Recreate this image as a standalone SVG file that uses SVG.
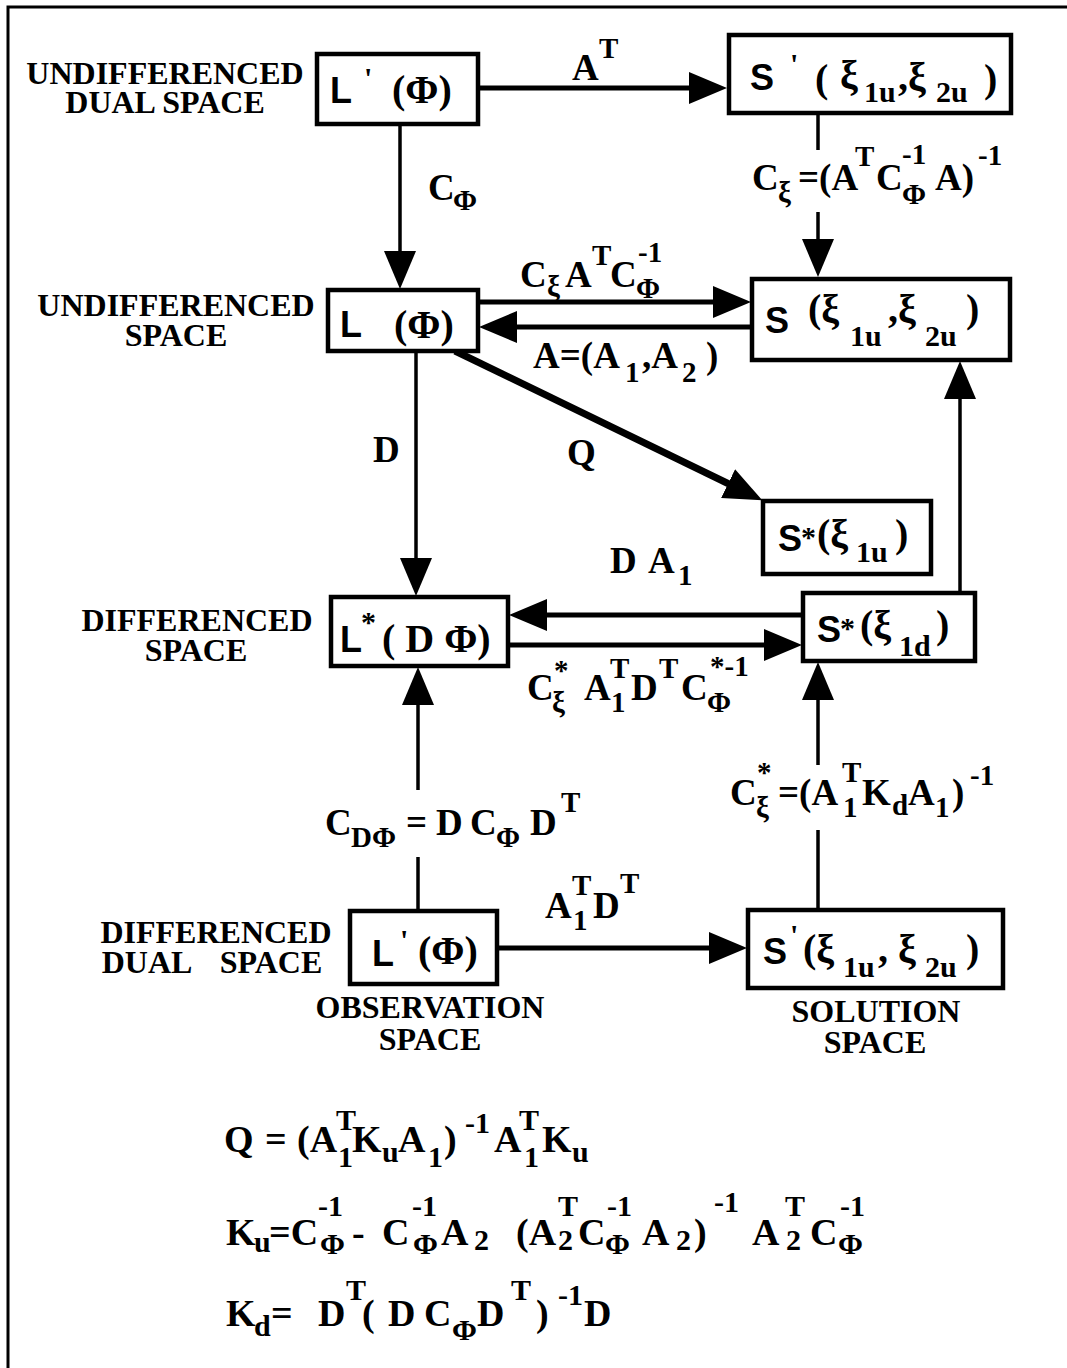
<svg xmlns="http://www.w3.org/2000/svg" width="1067" height="1368" viewBox="0 0 1067 1368">
<style>
text{font-family:"Liberation Serif","Times New Roman",serif;font-weight:bold;fill:#000}
.lab{font-size:32px;text-anchor:middle}
.m{font-size:37px}
.s{font-size:29px}
.f{font-size:38px}
.fs{font-size:30px}
.n{font-size:40px}
.ns{font-size:30px}
.sn{font-family:"Liberation Sans",Arial,sans-serif;font-size:36px}
.box{fill:#fff;stroke:#000;stroke-width:4.5}
.ln{stroke:#000;stroke-width:5;fill:none}
.thin{stroke-width:3.5}
.q{stroke-width:7}
</style>
<defs>
<marker id="ah" markerUnits="userSpaceOnUse" markerWidth="40" markerHeight="32" refX="1" refY="16" orient="auto" viewBox="0 0 40 32">
<path d="M0,0 L38,16 L0,32 Z" fill="#000"/>
</marker>
</defs>
<rect width="1067" height="1368" fill="#fff"/>
<path d="M8,1368 V7 H1067" fill="none" stroke="#000" stroke-width="3"/>

<g id="labels">
<text class="lab"><tspan x="165" y="84">UNDIFFERENCED</tspan><tspan x="165" y="113">DUAL SPACE</tspan></text>
<text class="lab"><tspan x="176" y="316">UNDIFFERENCED</tspan><tspan x="176" y="346">SPACE</tspan></text>
<text class="lab"><tspan x="197" y="631">DIFFERENCED</tspan><tspan x="196" y="661">SPACE</tspan></text>
<text class="lab"><tspan x="216" y="943">DIFFERENCED</tspan><tspan x="147" y="973">DUAL</tspan><tspan x="271" y="973">SPACE</tspan></text>
<text class="lab"><tspan x="430" y="1018">OBSERVATION</tspan><tspan x="430" y="1050">SPACE</tspan></text>
<text class="lab"><tspan x="876" y="1022">SOLUTION</tspan><tspan x="875" y="1053">SPACE</tspan></text>
</g>

<g id="connectors">
<path class="ln" d="M478,88 H690" marker-end="url(#ah)"/>
<path class="ln thin" d="M400,124 V252" marker-end="url(#ah)"/>
<path class="ln thin" d="M818,113 V150"/>
<path class="ln thin" d="M818,212 V240" marker-end="url(#ah)"/>
<path class="ln" d="M478,302 H714" marker-end="url(#ah)"/>
<path class="ln" d="M752,327 H516" marker-end="url(#ah)"/>
<path class="ln thin" d="M416,351 V559" marker-end="url(#ah)"/>
<path class="ln q" d="M455,351 L729,484" marker-end="url(#ah)"/>
<path class="ln thin" d="M960,593 V398" marker-end="url(#ah)"/>
<path class="ln" d="M803,615 H546" marker-end="url(#ah)"/>
<path class="ln" d="M508,645 H765" marker-end="url(#ah)"/>
<path class="ln thin" d="M418,911 V857"/>
<path class="ln thin" d="M418,790 V704" marker-end="url(#ah)"/>
<path class="ln thin" d="M818,910 V830"/>
<path class="ln thin" d="M818,765 V699" marker-end="url(#ah)"/>
<path class="ln" d="M497,948 H710" marker-end="url(#ah)"/>
</g>

<g id="edge-labels">
<text class="m"><tspan x="572" y="80">A</tspan><tspan class="s" x="599" y="58">T</tspan></text>
<text class="m"><tspan x="428" y="200">C</tspan><tspan class="s" x="453" y="210">Φ</tspan></text>
<text class="m"><tspan x="752" y="190">C</tspan><tspan class="s" x="778" y="202">ξ</tspan><tspan x="798" y="190">=(A</tspan><tspan class="s" x="855" y="166">T</tspan><tspan x="876" y="190">C</tspan><tspan class="s" x="902" y="164">-1</tspan><tspan class="s" x="902" y="204">Φ</tspan><tspan x="935" y="190">A)</tspan><tspan class="s" x="978" y="165">-1</tspan></text>
<text class="m"><tspan x="520" y="287">C</tspan><tspan class="s" x="547" y="296">ξ</tspan><tspan x="565" y="287">A</tspan><tspan class="s" x="592" y="265">T</tspan><tspan x="610" y="287">C</tspan><tspan class="s" x="638" y="262">-1</tspan><tspan class="s" x="636" y="298">Φ</tspan></text>
<text class="m"><tspan x="533" y="368">A=(A</tspan><tspan class="s" x="625" y="382">1</tspan><tspan x="642" y="368">,A</tspan><tspan class="s" x="682" y="382">2</tspan><tspan x="706" y="368">)</tspan></text>
<text class="m" x="373" y="462">D</text>
<text class="m" x="567" y="465">Q</text>
<text class="m"><tspan x="610" y="573">D</tspan><tspan x="648" y="573">A</tspan><tspan class="s" x="678" y="585">1</tspan></text>
<text class="m"><tspan x="527" y="700">C</tspan><tspan class="s" x="554" y="680">*</tspan><tspan class="s" x="552" y="712">ξ</tspan><tspan x="584" y="700">A</tspan><tspan class="s" x="610" y="678">T</tspan><tspan class="s" x="611" y="712">1</tspan><tspan x="631" y="700">D</tspan><tspan class="s" x="659" y="678">T</tspan><tspan x="681" y="700">C</tspan><tspan class="s" x="710" y="676">*-1</tspan><tspan class="s" x="707" y="712">Φ</tspan></text>
<text class="m"><tspan x="325" y="835">C</tspan><tspan class="s" x="351" y="847">DΦ</tspan><tspan x="406" y="835">=</tspan><tspan x="436" y="835">D</tspan><tspan x="470" y="835">C</tspan><tspan class="s" x="496" y="847">Φ</tspan><tspan x="530" y="835">D</tspan><tspan class="s" x="561" y="812">T</tspan></text>
<text class="m"><tspan x="730" y="805">C</tspan><tspan class="s" x="757" y="782">*</tspan><tspan class="s" x="756" y="817">ξ</tspan><tspan x="778" y="805">=(A</tspan><tspan class="s" x="842" y="782">T</tspan><tspan class="s" x="843" y="817">1</tspan><tspan x="862" y="805">K</tspan><tspan class="s" x="892" y="815">d</tspan><tspan x="908" y="805">A</tspan><tspan class="s" x="935" y="817">1</tspan><tspan x="952" y="805">)</tspan><tspan class="s" x="970" y="785">-1</tspan></text>
<text class="m"><tspan x="545" y="918">A</tspan><tspan class="s" x="572" y="895">T</tspan><tspan class="s" x="573" y="930">1</tspan><tspan x="593" y="918">D</tspan><tspan class="s" x="620" y="893">T</tspan></text>
</g>

<g id="n-Lp1">
<rect class="box" x="317" y="54" width="161" height="70"/>
<text><tspan class="sn" x="330" y="103">L</tspan><tspan class="ns" x="364" y="88">'</tspan><tspan class="n" x="392" y="103">(Φ)</tspan></text>
</g>
<g id="n-Sp1">
<rect class="box" x="729" y="35" width="282" height="78"/>
<text><tspan class="sn" x="750" y="90">S</tspan><tspan class="ns" x="790" y="74">'</tspan><tspan class="n" x="815" y="92">(</tspan><tspan class="n" x="840" y="88">ξ</tspan><tspan class="ns" x="864" y="102">1u</tspan><tspan class="n" x="898" y="90">,ξ</tspan><tspan class="ns" x="936" y="102">2u</tspan><tspan class="n" x="984" y="92">)</tspan></text>
</g>
<g id="n-L">
<rect class="box" x="328" y="290" width="150" height="61"/>
<text><tspan class="sn" x="340" y="337">L</tspan><tspan class="n" x="394" y="338">(Φ)</tspan></text>
</g>
<g id="n-S">
<rect class="box" x="752" y="279" width="258" height="81"/>
<text><tspan class="sn" x="765" y="333">S</tspan><tspan class="n" x="808" y="322">(ξ</tspan><tspan class="ns" x="850" y="346">1u</tspan><tspan class="n" x="888" y="322">,ξ</tspan><tspan class="ns" x="925" y="346">2u</tspan><tspan class="n" x="966" y="322">)</tspan></text>
</g>
<g id="n-Ss1u">
<rect class="box" x="763" y="501" width="168" height="73"/>
<text><tspan class="sn" x="778" y="551">S</tspan><tspan class="ns" x="801" y="547">*</tspan><tspan class="n" x="817" y="547">(ξ</tspan><tspan class="ns" x="856" y="562">1u</tspan><tspan class="n" x="895" y="547">)</tspan></text>
</g>
<g id="n-Lstar">
<rect class="box" x="331" y="597" width="177" height="69"/>
<text><tspan class="sn" x="340" y="652">L</tspan><tspan class="ns" x="361" y="632">*</tspan><tspan class="n" x="382" y="652">( D Φ)</tspan></text>
</g>
<g id="n-Ss1d">
<rect class="box" x="803" y="593" width="172" height="68"/>
<text><tspan class="sn" x="817" y="642">S</tspan><tspan class="ns" x="840" y="638">*</tspan><tspan class="n" x="860" y="638">(ξ</tspan><tspan class="ns" x="899" y="656">1d</tspan><tspan class="n" x="936" y="638">)</tspan></text>
</g>
<g id="n-Lp2">
<rect class="box" x="350" y="911" width="147" height="73"/>
<text><tspan class="sn" x="372" y="966">L</tspan><tspan class="ns" x="400" y="950">'</tspan><tspan class="n" x="418" y="964">(Φ)</tspan></text>
</g>
<g id="n-Sp2">
<rect class="box" x="748" y="910" width="255" height="78"/>
<text><tspan class="sn" x="763" y="964">S</tspan><tspan class="ns" x="790" y="945">'</tspan><tspan class="n" x="803" y="962">(ξ</tspan><tspan class="ns" x="843" y="977">1u</tspan><tspan class="n" x="878" y="962">, ξ</tspan><tspan class="ns" x="925" y="977">2u</tspan><tspan class="n" x="966" y="962">)</tspan></text>
</g>

<g id="formulas">
<text class="f"><tspan x="224" y="1152">Q</tspan><tspan x="265" y="1152">=</tspan><tspan x="297" y="1152">(A</tspan><tspan class="fs" x="336" y="1130">T</tspan><tspan class="fs" x="338" y="1167">1</tspan><tspan x="352" y="1152">K</tspan><tspan class="fs" x="382" y="1162">u</tspan><tspan x="398" y="1152">A</tspan><tspan class="fs" x="428" y="1167">1</tspan><tspan x="444" y="1152">)</tspan><tspan class="fs" x="465" y="1133">-1</tspan><tspan x="494" y="1152">A</tspan><tspan class="fs" x="519" y="1130">T</tspan><tspan class="fs" x="524" y="1167">1</tspan><tspan x="542" y="1152">K</tspan><tspan class="fs" x="572" y="1162">u</tspan></text>
<text class="f"><tspan x="226" y="1245">K</tspan><tspan class="fs" x="254" y="1252">u</tspan><tspan x="269" y="1245">=C</tspan><tspan class="fs" x="318" y="1216">-1</tspan><tspan class="fs" x="320" y="1254">Φ</tspan><tspan x="352" y="1245">-</tspan><tspan x="382" y="1245">C</tspan><tspan class="fs" x="412" y="1216">-1</tspan><tspan class="fs" x="413" y="1254">Φ</tspan><tspan x="441" y="1245">A</tspan><tspan class="fs" x="474" y="1250">2</tspan><tspan x="516" y="1245">(A</tspan><tspan class="fs" x="558" y="1216">T</tspan><tspan class="fs" x="558" y="1250">2</tspan><tspan x="578" y="1245">C</tspan><tspan class="fs" x="607" y="1216">-1</tspan><tspan class="fs" x="605" y="1254">Φ</tspan><tspan x="642" y="1245">A</tspan><tspan class="fs" x="676" y="1250">2</tspan><tspan x="694" y="1245">)</tspan><tspan class="fs" x="714" y="1212">-1</tspan><tspan x="752" y="1245">A</tspan><tspan class="fs" x="785" y="1216">T</tspan><tspan class="fs" x="786" y="1250">2</tspan><tspan x="810" y="1245">C</tspan><tspan class="fs" x="840" y="1216">-1</tspan><tspan class="fs" x="838" y="1254">Φ</tspan></text>
<text class="f"><tspan x="226" y="1326">K</tspan><tspan class="fs" x="254" y="1336">d</tspan><tspan x="271" y="1326">=</tspan><tspan x="318" y="1326">D</tspan><tspan class="fs" x="346" y="1300">T</tspan><tspan x="362" y="1326">(</tspan><tspan x="388" y="1326">D</tspan><tspan x="424" y="1326">C</tspan><tspan class="fs" x="452" y="1340">Φ</tspan><tspan x="477" y="1326">D</tspan><tspan class="fs" x="511" y="1300">T</tspan><tspan x="536" y="1326">)</tspan><tspan class="fs" x="558" y="1305">-1</tspan><tspan x="584" y="1326">D</tspan></text>
</g>
</svg>
